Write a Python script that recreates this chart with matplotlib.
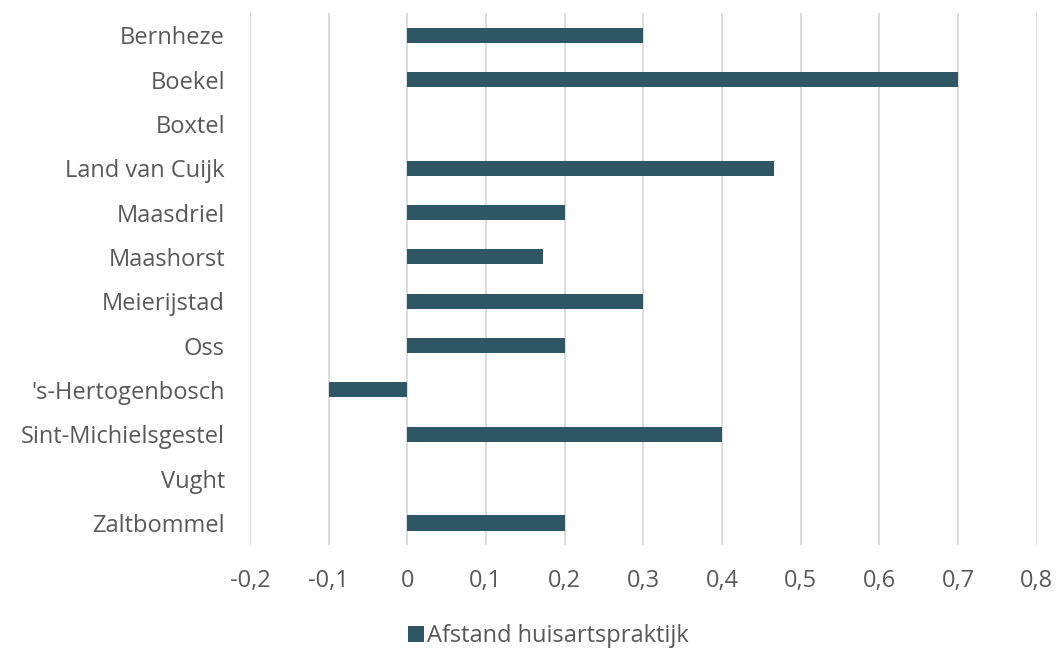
import matplotlib.pyplot as plt
import numpy as np

plt.rcParams['font.family'] = ['Open Sans', 'DejaVu Sans']

gemeenten = ['Bernheze', 'Boekel', 'Boxtel', 'Land van Cuijk', 'Maasdriel', 'Maashorst',
             'Meierijstad', 'Oss', "'s-Hertogenbosch", 'Sint-Michielsgestel', 'Vught', 'Zaltbommel']
afstand = [0.3, 0.7, 0.0, 0.466, 0.2, 0.172, 0.3, 0.2, -0.1, 0.4, 0.0, 0.2]
ticks = [-0.2, -0.1, 0, 0.1, 0.2, 0.3, 0.4, 0.5, 0.6, 0.7, 0.8]

bar_color = '#2F5665'
text_color = '#595959'

fig = plt.figure(figsize=(10.59, 6.49), dpi=100)
ax = fig.add_axes([0.236, 0.160, 0.743, 0.820])

y = np.arange(len(gemeenten))
ax.barh(y, afstand, height=0.34, color=bar_color, label='Afstand huisartspraktijk', zorder=3)
ax.set_ylim(len(gemeenten) - 0.5, -0.5)
ax.set_yticks(y)
ax.set_yticklabels(gemeenten)
ax.set_xlim(-0.2, 0.8)
ax.set_xticks(ticks)
ax.set_xticklabels(['0' if t == 0 else f'{t:.1f}'.replace('.', ',') for t in ticks])

ax.grid(axis='x', color='#D9D9D9', linewidth=1.3, zorder=0)
for s in ax.spines.values():
    s.set_visible(False)
ax.tick_params(length=0, labelsize=17, colors=text_color)
ax.tick_params(axis='x', pad=17)
ax.tick_params(axis='y', pad=18)

fig.legend(loc='center', bbox_to_anchor=(0.518, 0.02), frameon=False, fontsize=17,
           labelcolor=text_color, handlelength=0.65, handleheight=0.65, handletextpad=0.15)

fig.savefig('out.png', dpi=100)
